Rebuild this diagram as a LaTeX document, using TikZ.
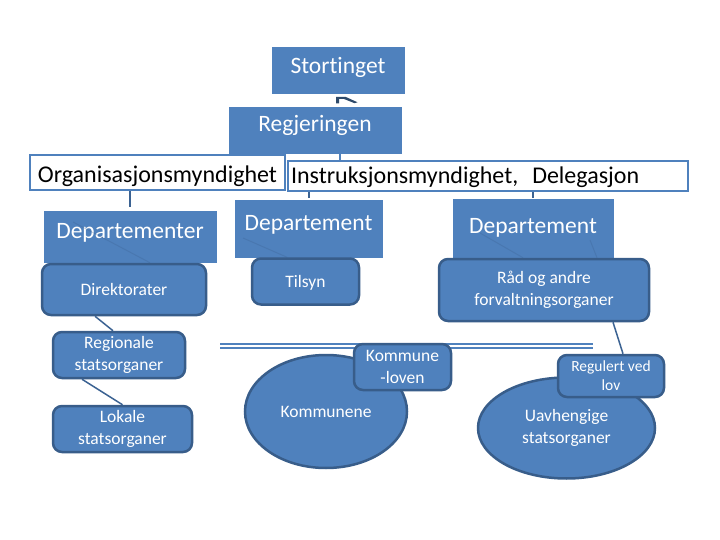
\documentclass[tikz,border=0pt]{standalone}
\usepackage{fontspec}
\setmainfont{Carlito}[Ligatures=NoCommon]
\usetikzlibrary{shapes.geometric,calc}
\definecolor{bfill}{HTML}{4F81BD}
\definecolor{bline}{HTML}{385D8A}
\definecolor{bdark}{HTML}{2E4A6B}
\begin{document}
\begin{tikzpicture}[x=1pt,y=-1pt,
  box/.style={rectangle, fill=bfill, draw=bfill, line width=0.5pt, inner sep=0pt},
  lbl/.style={text=white, inner sep=0pt, text height=15.1pt, text depth=0pt, font=\fontsize{23.5}{28}\selectfont},
  rbox/.style={rectangle, rounded corners=9pt, fill=bfill, draw=bline, line width=2.5pt, inner sep=0pt, text=white, align=center, font=\fontsize{17.5}{22}\selectfont},
  one/.style={text height=11.3pt, text depth=0pt},
  wbox/.style={rectangle, fill=white, draw=bfill, line width=2.5pt, inner sep=0pt, text=black, font=\fontsize{24}{28}\selectfont, text height=15.4pt, text depth=0pt},
  ell/.style={ellipse, fill=bfill, draw=bline, line width=2.5pt, inner sep=0pt, text=white, align=center, font=\fontsize{17.5}{22}\selectfont},
  conn/.style={draw=bfill, line width=2pt},
  dconn/.style={draw=bline!85!bfill, line width=2pt},
  faint/.style={draw=bline, line width=1pt, opacity=0.25},
  dline/.style={draw=bfill, line width=2pt, double=white, double distance=2pt}
]
\fill[white] (0,0) rectangle (720,540);
\useasboundingbox (0,0) rectangle (720,540);

% double line behind the boxes
\coordinate (dl1) at (220,346);
\coordinate (dl2) at (593,346);
\draw[dline] (dl1) -- (dl2);

% top
\node[box, minimum width=132pt, minimum height=46pt,
  label={[lbl, yshift=3.7pt]center:Stortinget}] (st) at (338,70) {};
\node[box, minimum width=172pt, minimum height=46pt,
  label={[lbl, yshift=5.8pt]center:Regjeringen}] (reg) at (315,130) {};

\node[wbox, minimum width=255pt, minimum height=35pt, text height=20.4pt] (org) at (157.5,172.5) {Organisasjonsmyndighet};
\node[wbox, minimum height=30pt, text width=394pt, inner xsep=3pt, align=left] (instr) at (488,176) {Instruksjonsmyndighet,\hspace{14pt}Delegasjon};

% departement boxes
\node[box, minimum width=172pt, minimum height=51pt,
  label={[lbl, yshift=5.2pt]center:Departementer}] (dep1) at (130,236.5) {};
\node[box, minimum width=147pt, minimum height=57pt,
  label={[lbl, yshift=5.7pt]center:Departement}] (dep2) at (308.5,228.5) {};
\node[box, minimum width=160pt, minimum height=59pt,
  label={[lbl, yshift=2.5pt]center:Departement}] (dep3) at (533,228.5) {};

% connectors from authority boxes
\draw[conn] ([xshift=25pt]reg.south) -- ([xshift=25pt]reg.south |- instr.north);
\draw[dconn, shorten >=4pt] (dep1.north |- org.south) -- (dep1.north);
\draw[dconn, shorten >=2pt] (dep2.north |- instr.south) -- (dep2.north);
\draw[dconn, shorten >=1pt] (dep3.north |- instr.south) -- (dep3.north);

% arrow fragment under Stortinget
\fill[bdark] (336,103.5) -- (336,96.8) -- (345.5,96.8) -- (357.5,102.3) -- (354.5,103.2) -- (344,99) -- (339,99) -- (339,103.5) -- cycle;

% rounded boxes
\node[rbox, one, minimum width=164pt, minimum height=51pt] (dir) at (124,289.5) {Direktorater};
\node[rbox, one, minimum width=107pt, minimum height=46pt] (til) at (305.5,281.5) {Tilsyn};
\node[rbox, minimum width=210pt, minimum height=62pt] (rad) at (544,290) {Råd og andre\\forvaltningsorganer};
\node[rbox, minimum width=132pt, minimum height=46pt] (rg1) at (119,355) {Regionale\\statsorganer};
\node[rbox, minimum width=139pt, minimum height=46pt] (lok) at (122.5,429) {Lokale\\statsorganer};

\draw[dconn, line width=1.5pt] ([xshift=-29pt]dir.south) -- ([xshift=-6pt]rg1.north);
\draw[dconn, line width=1.5pt] ([xshift=-37pt]rg1.south) -- (lok.north);

% municipalities
\node[ell, minimum width=162pt, minimum height=113pt] (kom) at (326,411.5) {Kommunene};
\node[rbox, minimum width=97pt, minimum height=46pt] (kl) at (402.5,367) {Kommune\\-loven};

% independent bodies
\node[ell, minimum width=177pt, minimum height=101pt] (uav) at (566.5,428) {Uavhengige\\statsorganer};
\node[rbox, minimum width=106pt, minimum height=42pt, font=\fontsize{15.5}{19}\selectfont] (regl) at (611,376) {Regulert ved\\lov};
\draw[dconn, line width=1.5pt] ([xshift=69pt]rad.south) -- ([xshift=12pt]regl.north);

% faint connectors seen through the boxes
\coordinate (f1) at (73,222);
\coordinate (f2) at (243,238);
\coordinate (f3) at (480,233);
\coordinate (f4) at (590,240);
\coordinate (f5) at (651,414);
\draw[faint] (f1) -- ([xshift=26pt]dir.north);
\draw[faint] (f2) -- ([xshift=-18.5pt]til.north);
\draw[faint] (f3) -- ([xshift=-21pt]rad.north);
\draw[faint] (f4) -- ([xshift=53pt]rad.north);
\draw[faint] ([xshift=29pt]regl.south) -- (f5);
\end{tikzpicture}
\end{document}
